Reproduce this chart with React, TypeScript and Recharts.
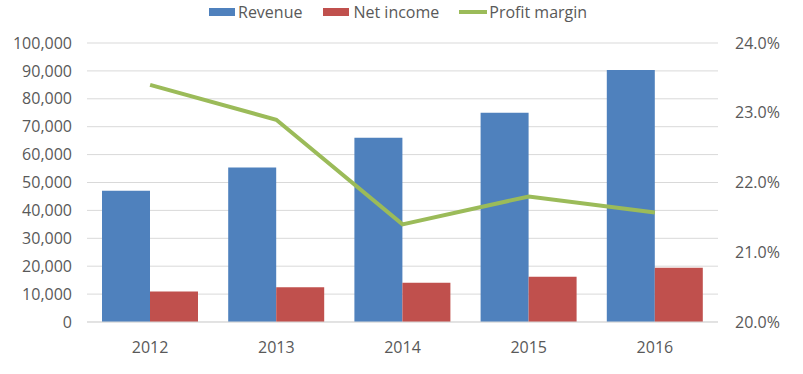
import React from "react";
import {
  ComposedChart,
  Bar,
  Line,
  XAxis,
  YAxis,
  CartesianGrid,
  Legend,
} from "recharts";

const years = ["2012", "2013", "2014", "2015", "2016"];
const revenue = [47000, 55400, 66000, 75000, 90300];
const netIncome = [10900, 12500, 14100, 16200, 19400];
const profitMargin = [23.4, 22.9, 21.4, 21.8, 21.57];

const seriesNames = ["Revenue", "Net income", "Profit margin"];
const leftTicks = [0, 10000, 20000, 30000, 40000, 50000, 60000, 70000, 80000, 90000, 100000];
const rightTicks = [20, 21, 22, 23, 24];

const data = years.map((y, i) => ({
  year: y,
  revenue: revenue[i],
  netIncome: netIncome[i],
  margin: profitMargin[i],
}));

const FONT = "'Open Sans', sans-serif";
const TEXT = "#595959";
const BLUE = "#4f81bd";
const RED = "#c0504d";
const GREEN = "#9bbb59";

const LegendContent = (props: any) => {
  const payload: any[] = [...(props.payload || [])].sort(
    (a, b) => seriesNames.indexOf(a.value) - seriesNames.indexOf(b.value)
  );
  return (
    <div
      style={{
        height: 24,
        display: "flex",
        alignItems: "center",
        paddingLeft: 209,
        fontFamily: FONT,
        fontSize: 16,
        color: TEXT,
        whiteSpace: "nowrap",
      }}
    >
      {payload.map((p, i) => {
        const isLine = p.type === "line";
        return (
          <div key={i} style={{ display: "flex", alignItems: "center", marginRight: i === 0 ? 21 : 20 }}>
            {isLine ? (
              <span style={{ display: "inline-block", width: 28, height: 4, background: p.color, marginRight: 2 }} />
            ) : (
              <span style={{ display: "inline-block", width: 26, height: 8, background: p.color, marginRight: i === 0 ? 3 : 4 }} />
            )}
            <span>{p.value}</span>
          </div>
        );
      })}
    </div>
  );
};

export default function App() {
  return (
    <div style={{ position: "absolute", left: 0, top: 0, width: 803, height: 374, background: "#fff" }}>
      <ComposedChart
        width={803}
        height={374}
        data={data}
        margin={{ top: 19, right: 0, bottom: 22, left: 0 }}
        barGap={0}
      >
        <CartesianGrid vertical={false} stroke="#d9d9d9" strokeWidth={1} yAxisId="left" />
        <XAxis
          dataKey="year"
          axisLine={{ stroke: "#d9d9d9" }}
          tickLine={false}
          tickSize={0}
          tickMargin={20}
          height={30}
          tick={{ fill: TEXT, fontFamily: FONT, fontSize: 16 }}
        />
        <YAxis
          yAxisId="left"
          orientation="left"
          width={87}
          domain={[0, 100000]}
          ticks={leftTicks}
          interval={0}
          axisLine={false}
          tickLine={false}
          tickSize={0}
          tickMargin={15}
          tickFormatter={(v: number) => v.toLocaleString("en-US")}
          tick={{ fill: TEXT, fontFamily: FONT, fontSize: 16 }}
        />
        <YAxis
          yAxisId="right"
          orientation="right"
          width={85}
          domain={[20, 24]}
          ticks={rightTicks}
          interval={0}
          axisLine={false}
          tickLine={false}
          tickSize={0}
          tickMargin={17}
          tickFormatter={(v: number) => v.toFixed(1) + "%"}
          tick={{ fill: TEXT, fontFamily: FONT, fontSize: 16 }}
        />
        <Legend
          verticalAlign="top"
          align="left"
          content={<LegendContent />}
          wrapperStyle={{ top: 0, left: 0, width: 803, height: 24 }}
        />
        <Bar yAxisId="left" dataKey="revenue" name="Revenue" fill={BLUE} barSize={48} isAnimationActive={false} />
        <Bar yAxisId="left" dataKey="netIncome" name="Net income" fill={RED} barSize={48} isAnimationActive={false} />
        <Line
          yAxisId="right"
          type="linear"
          dataKey="margin"
          name="Profit margin"
          stroke={GREEN}
          strokeWidth={4}
          dot={false}
          activeDot={false}
          legendType="line"
          isAnimationActive={false}
        />
      </ComposedChart>
    </div>
  );
}
